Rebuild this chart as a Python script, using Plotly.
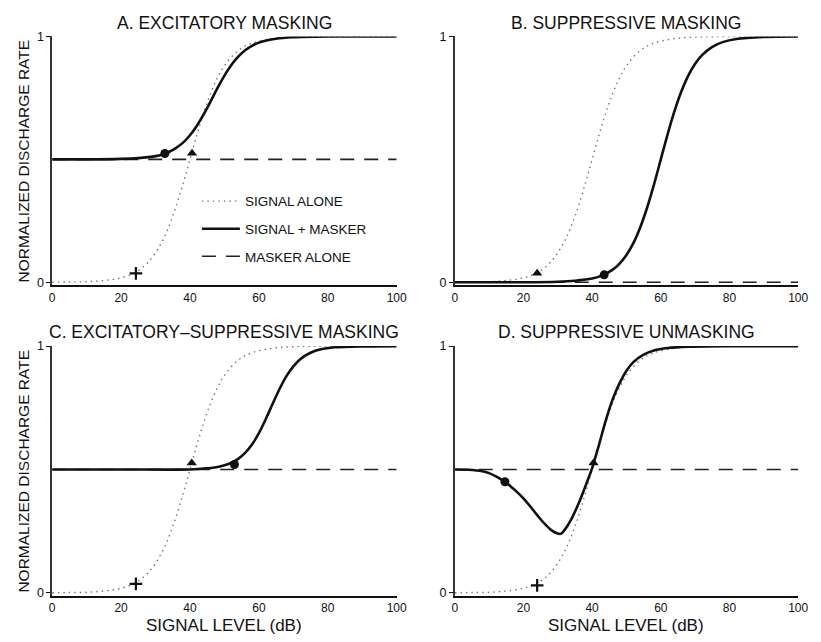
import plotly.graph_objects as go

# ---------------- data ----------------
XTICKS = [0, 20, 40, 60, 80, 100]
YTICKS = [0, 1]
YTICK_TEXT = ["0", "1"]

TITLES = ["A. EXCITATORY MASKING", "B. SUPPRESSIVE MASKING",
          "C. EXCITATORY\u2013SUPPRESSIVE MASKING", "D. SUPPRESSIVE UNMASKING"]
LEGEND_NAMES = ["SIGNAL ALONE", "SIGNAL + MASKER", "MASKER ALONE"]
X_LABEL = "SIGNAL LEVEL (dB)"
Y_LABEL = "NORMALIZED DISCHARGE RATE"

# signal alone (same in every panel)
SIGNAL_X = [0, 5, 10, 15, 20, 24, 28, 32, 35, 38, 40, 42, 44, 46, 48, 50, 54, 58, 65, 75, 100]
SIGNAL_Y = [0.0, 0.001, 0.002, 0.007, 0.018, 0.039, 0.083, 0.168, 0.269, 0.401, 0.5,
            0.599, 0.690, 0.769, 0.832, 0.881, 0.943, 0.973, 0.993, 0.999, 1.0]

# signal + masker
A_SM_X = [0, 10, 20, 25, 28, 30, 32, 34, 36, 38, 40, 42, 44, 46, 48, 50, 52, 54, 56, 58, 60, 65, 70, 80, 100]
A_SM_Y = [0.5, 0.5, 0.502, 0.505, 0.509, 0.513, 0.520, 0.531, 0.547, 0.568, 0.598, 0.637, 0.684,
          0.736, 0.791, 0.841, 0.884, 0.918, 0.944, 0.962, 0.975, 0.991, 0.997, 1.0, 1.0]

B_SM_X = [0, 20, 30, 35, 40, 43, 46, 48, 50, 52, 54, 56, 58, 60, 62, 64, 66, 68, 70, 72, 75, 78, 82, 90, 100]
B_SM_Y = [0.0, 0.0, 0.002, 0.006, 0.015, 0.028, 0.051, 0.076, 0.111, 0.159, 0.223, 0.303, 0.397,
          0.5, 0.603, 0.697, 0.777, 0.841, 0.889, 0.924, 0.958, 0.977, 0.990, 0.998, 1.0]

C_SM_X = [0, 20, 40, 44, 46, 48, 50, 52, 54, 56, 58, 60, 62, 64, 66, 68, 70, 72, 75, 78, 82, 90, 100]
C_SM_Y = [0.5, 0.5, 0.5, 0.504, 0.506, 0.510, 0.517, 0.527, 0.543, 0.567, 0.601, 0.647, 0.704,
          0.766, 0.826, 0.878, 0.918, 0.947, 0.973, 0.987, 0.995, 0.999, 1.0]

D_SM_X = [0, 4, 8, 10, 12, 14, 16, 18, 20, 22, 24, 26, 28, 30, 31, 32, 34, 36, 38, 40, 42, 44,
          46, 48, 50, 52, 55, 58, 62, 68, 80, 100]
D_SM_Y = [0.5, 0.499, 0.493, 0.485, 0.472, 0.455, 0.435, 0.410, 0.383, 0.350, 0.315, 0.282,
          0.255, 0.240, 0.240, 0.255, 0.300, 0.360, 0.430, 0.505, 0.600, 0.700, 0.785, 0.850,
          0.900, 0.935, 0.965, 0.982, 0.992, 0.998, 1.0, 1.0]

SM_X = [A_SM_X, B_SM_X, C_SM_X, D_SM_X]
SM_Y = [A_SM_Y, B_SM_Y, C_SM_Y, D_SM_Y]

# masker alone
MASKER_X = [0, 100]
MASKER_Y = [[0.5, 0.5], [0.0, 0.0], [0.5, 0.5], [0.5, 0.5]]

# threshold markers (per panel)
PLUS_X = [[24.3], [], [24.3], [24.0]]
PLUS_Y = [[0.036], [], [0.036], [0.03]]
TRI_X = [[40.6], [24.0], [40.5], [40.4]]
TRI_Y = [[0.525], [0.036], [0.526], [0.526]]
CIRC_X = [[32.7], [43.5], [52.9], [14.6]]
CIRC_Y = [[0.524], [0.03], [0.52], [0.45]]

# ---------------- figure ----------------
FONT = "Liberation Sans, Arial, sans-serif"
INK = "#111111"

fig = go.Figure()

for i in range(4):
    xa = "x" if i == 0 else f"x{i+1}"
    ya = "y" if i == 0 else f"y{i+1}"
    first = i == 0
    fig.add_trace(go.Scatter(x=MASKER_X, y=MASKER_Y[i], mode="lines", xaxis=xa, yaxis=ya,
                             line=dict(color="#222222", width=1.6, dash="14px,10px"),
                             name=LEGEND_NAMES[2], showlegend=first, legendgroup="m",
                             legendrank=3))
    fig.add_trace(go.Scatter(x=SIGNAL_X, y=SIGNAL_Y, mode="lines", xaxis=xa, yaxis=ya,
                             line=dict(color="#777777", width=1.4, dash="1.5px,4px", shape="spline"),
                             name=LEGEND_NAMES[0], showlegend=first, legendgroup="s",
                             legendrank=1))
    fig.add_trace(go.Scatter(x=SM_X[i], y=SM_Y[i], mode="lines", xaxis=xa, yaxis=ya,
                             line=dict(color=INK, width=2.6, shape="spline", smoothing=0.8),
                             name=LEGEND_NAMES[1], showlegend=first, legendgroup="sm",
                             legendrank=2))
    if PLUS_X[i]:
        fig.add_trace(go.Scatter(x=PLUS_X[i], y=PLUS_Y[i], mode="markers", xaxis=xa, yaxis=ya,
                                 marker=dict(symbol="cross-thin", size=9,
                                             line=dict(color=INK, width=2.2)),
                                 showlegend=False))
    fig.add_trace(go.Scatter(x=TRI_X[i], y=TRI_Y[i], mode="markers", xaxis=xa, yaxis=ya,
                             marker=dict(symbol="triangle-up", size=9, color=INK),
                             showlegend=False))
    fig.add_trace(go.Scatter(x=CIRC_X[i], y=CIRC_Y[i], mode="markers", xaxis=xa, yaxis=ya,
                             marker=dict(symbol="circle", size=9, color=INK),
                             showlegend=False))

W, H = 821, 642
XDOM = [[50 / W, 400 / W], [459 / W, 808 / W]]
YDOM = [[1 - 283 / H, 1 - 30 / H], [1 - 599 / H, 1 - 345 / H]]

layout = dict(
    width=W, height=H, margin=dict(l=0, r=0, t=0, b=0),
    paper_bgcolor="white", plot_bgcolor="white",
    font=dict(family=FONT, color=INK),
    legend=dict(x=197 / W, y=1 - 182 / H, xanchor="left", yanchor="top",
                font=dict(size=13.5, family=FONT, color=INK),
                bgcolor="rgba(0,0,0,0)", itemwidth=38, tracegroupgap=7,
                traceorder="grouped"),
)

annotations = []
for i in range(4):
    r, c = divmod(i, 2)
    sx = "" if i == 0 else str(i + 1)
    layout["xaxis" + sx] = dict(
        domain=XDOM[c], range=[0, 100], anchor="y" + sx,
        tickvals=XTICKS, ticks="",
        showline=True, linecolor=INK, linewidth=2, showgrid=False, zeroline=False,
        tickfont=dict(size=12, family=FONT, color=INK),
    )
    layout["yaxis" + sx] = dict(
        domain=YDOM[r], range=[-0.012, 1.0], anchor="x" + sx,
        tickvals=YTICKS, ticktext=YTICK_TEXT, ticks="outside", ticklen=4, tickwidth=1.2,
        tickcolor=INK, showline=True, linecolor="#333333", linewidth=1.6,
        showgrid=False, zeroline=False,
        tickfont=dict(size=12.5, family=FONT, color=INK),
    )
    xc = (XDOM[c][0] + XDOM[c][1]) / 2
    annotations.append(dict(text=TITLES[i], x=xc, y=YDOM[r][1] + 14 / H, xref="paper",
                            yref="paper", xanchor="center", yanchor="middle",
                            showarrow=False, font=dict(size=17.5, family=FONT, color=INK)))
    if r == 1:
        annotations.append(dict(text=X_LABEL, x=xc, y=1 - 629 / H, xref="paper", yref="paper",
                                xanchor="center", yanchor="middle", showarrow=False,
                                font=dict(size=17, family=FONT, color=INK)))
    if c == 0:
        annotations.append(dict(text=Y_LABEL, x=21 / W, y=(YDOM[r][0] + YDOM[r][1]) / 2,
                                xref="paper", yref="paper", xanchor="center",
                                yanchor="middle", textangle=-90, showarrow=False,
                                font=dict(size=15.5, family=FONT, color=INK)))
layout["annotations"] = annotations

fig.update_layout(**layout)
fig.write_html("out.html")
